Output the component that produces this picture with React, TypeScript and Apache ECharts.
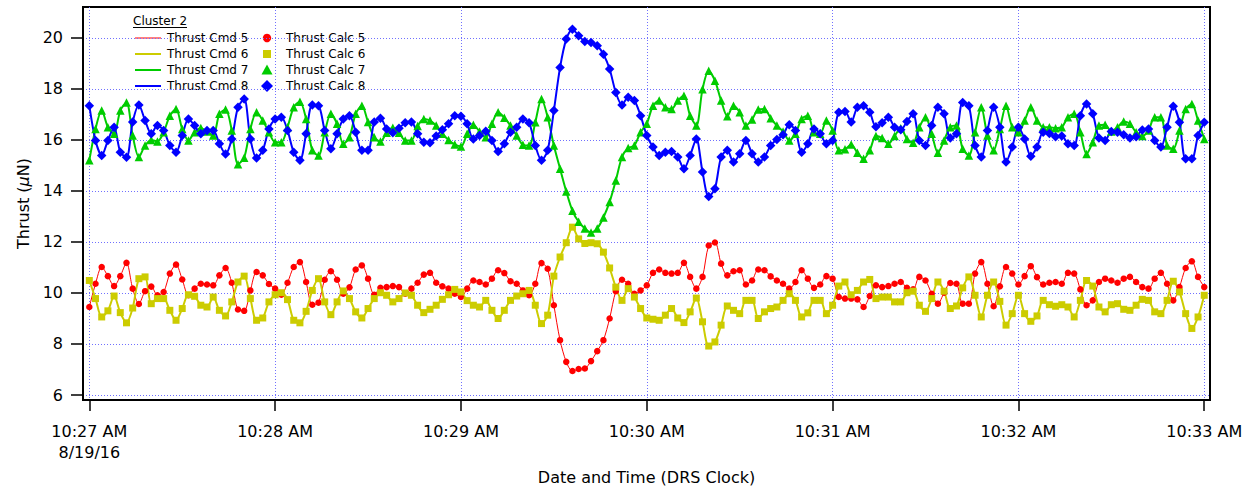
import React, { useEffect, useRef } from "react";
import * as echarts from "echarts";

// Samples are 2 s apart, the first one at 10:27:00 AM.
const SAMPLE_STEP_S = 2;

const X_TICKS = [0, 1, 2, 3, 4, 5, 6]; // minutes after 10:27
const X_TICK_LABELS = ["10:27 AM", "10:28 AM", "10:29 AM", "10:30 AM", "10:31 AM", "10:32 AM", "10:33 AM"];
const DATE_LABEL = "8/19/16";
const Y_TICKS = [6, 8, 10, 12, 14, 16, 18, 20];

const CLUSTER_TITLE = "Cluster 2";
const CMD_NAMES = ["Thrust Cmd 5", "Thrust Cmd 6", "Thrust Cmd 7", "Thrust Cmd 8"];
const CALC_NAMES = ["Thrust Calc 5", "Thrust Calc 6", "Thrust Calc 7", "Thrust Calc 8"];

// Thruster 5 (µN)
const THRUST_5 = [
  9.45, 10.36, 11.02, 10.66, 10.27, 10.66, 11.18, 10.17, 9.57, 10.07, 10.25, 9.91, 10.04, 10.76, 11.11, 10.53,
  9.91, 10.17, 10.36, 10.33, 10.3, 10.69, 10.98, 10.4, 9.35, 9.3, 10.1, 10.82, 10.69, 10.35, 10.17, 9.93,
  10.4, 11.02, 11.21, 10.43, 9.54, 9.62, 10.52, 10.85, 10.52, 9.97, 10.22, 10.92, 11.08, 10.56, 9.93,
  10.2, 10.23, 10.27, 10.23, 9.97, 10.17, 10.4, 10.72, 10.79, 10.4, 10.26, 10.17, 9.97, 9.84, 10.17, 10.49,
  10.43, 10.33, 10.56, 10.89, 10.78, 10.46, 10.36, 10.1, 9.91, 10.36, 11.17, 10.95, 9.52, 8.15, 7.3, 6.94,
  7.02, 7.04, 7.33, 7.72, 8.15, 9.0, 10.07, 10.52, 10.36, 9.97, 10.1, 10.3, 10.79, 10.92, 10.79,
  10.76, 10.79, 11.18, 10.63, 10.17, 10.63, 11.86, 11.98, 11.15, 10.69, 10.85, 10.89, 10.33, 10.49, 10.92, 10.89,
  10.65, 10.49, 10.36, 10.17, 10.43, 10.89, 10.56, 10.2, 10.33, 10.66, 10.56, 9.84, 9.78, 9.78, 9.75, 9.45,
  9.88, 10.3, 10.23, 10.27, 10.36, 10.43, 10.2, 10.14, 10.63, 10.49, 9.97, 9.58,
  10.01, 10.39, 10.36, 9.58, 9.58, 10.76, 11.21, 10.36, 9.48, 10.26, 11.02, 10.76, 10.33, 10.66, 11.05, 10.62,
  10.33, 10.4, 10.43, 10.36, 10.79, 10.76, 10.14, 9.52, 9.71, 10.43, 10.56, 10.49, 10.4, 10.56, 10.63, 10.43,
  10.23, 10.17, 10.56, 10.79, 10.36, 9.71, 10.23, 10.98, 11.24, 10.63, 10.23,
];

// Thruster 6 (µN)
const THRUST_6 = [
  10.49, 9.78, 9.06, 9.3, 9.88, 9.23, 8.83, 9.41, 10.56, 10.63, 9.58, 9.78, 9.78, 9.32, 8.93, 9.39,
  9.93, 9.87, 9.52, 9.45, 9.84, 9.32, 9.1, 9.65, 10.43, 10.66, 9.78, 8.93, 9.02, 9.65, 9.93, 10.01,
  9.74, 8.93, 8.83, 9.28, 10.1, 10.56, 9.65, 9.15, 9.65, 10.08, 9.78, 9.26, 9.02, 9.39, 9.78,
  10.01, 9.91, 9.65, 9.78, 10.0, 9.91, 9.52, 9.23, 9.36, 9.52, 9.75, 9.93, 10.14, 10.04, 9.7, 9.52,
  9.45, 9.71, 9.32, 9.0, 9.32, 9.71, 9.88, 9.97, 10.1, 9.52, 8.8, 9.13, 10.66, 11.41, 11.97, 12.58,
  12.12, 11.94, 11.97, 11.93, 11.6, 10.98, 10.23, 9.71, 10.17, 9.84, 9.39, 9.02, 8.97, 8.93, 9.13,
  9.39, 9.02, 8.84, 9.26, 9.8, 8.87, 7.92, 8.08, 8.74, 9.49, 9.32, 9.19, 9.71, 9.71, 9.0, 9.26,
  9.39, 9.45, 9.71, 9.97, 9.71, 9.06, 9.22, 9.71, 9.71, 9.19, 9.52, 10.27, 10.43, 9.93, 10.1, 10.43,
  10.53, 9.78, 9.84, 9.84, 9.65, 9.65, 10.01, 10.07, 9.52, 9.28, 9.78, 10.43,
  10.07, 9.39, 9.49, 10.2, 10.63, 9.91, 9.06, 9.91, 10.43, 9.67, 8.74, 9.19, 9.91, 9.19, 8.89, 9.1,
  9.71, 9.54, 9.48, 9.54, 9.45, 9.06, 9.71, 10.49, 10.27, 9.45, 9.26, 9.54, 9.58, 9.36, 9.32, 9.52,
  9.75, 9.71, 9.26, 9.19, 9.71, 10.46, 10.04, 9.19, 8.61, 9.06, 9.91,
];

// Thruster 7 (µN)
const THRUST_7 = [
  15.2, 16.43, 17.15, 16.5, 16.24, 17.15, 17.47, 16.17, 15.33, 15.78, 16.0, 15.94, 16.3, 16.95, 17.21, 16.43,
  15.98, 16.3, 16.47, 16.33, 16.17, 17.02, 17.19, 16.37, 15.05, 15.3, 16.43, 17.08, 16.76, 16.3, 15.91, 15.91,
  16.5, 17.28, 17.5, 16.82, 15.59, 15.39, 16.3, 17.02, 16.63, 15.85, 16.1, 17.02, 17.34, 16.7, 16.1,
  15.94, 16.28, 16.48, 16.28, 15.98, 15.98, 16.54, 16.82, 16.76, 16.56, 16.24, 16.0, 15.82, 15.74, 16.24, 16.59,
  16.33, 16.1, 16.63, 17.08, 16.87, 16.56, 16.17, 15.81, 15.78, 16.69, 17.6, 16.89, 15.78, 14.87, 13.98, 13.22,
  12.79, 12.53, 12.37, 12.53, 12.96, 13.57, 14.41, 15.33, 15.68, 15.78, 16.3, 16.63, 17.34, 17.54, 17.28,
  17.21, 17.54, 17.73, 16.95, 16.56, 17.99, 18.71, 18.32, 17.54, 16.93, 17.34, 17.08, 16.56, 16.8, 17.19, 17.21,
  16.85, 16.56, 16.33, 15.98, 16.24, 16.82, 16.95, 16.3, 16.24, 16.76, 16.37, 15.59, 15.63, 15.82, 15.5, 15.26,
  15.59, 16.15, 16.07, 15.85, 16.15, 16.46, 16.04, 15.89, 16.5, 16.89, 16.24, 15.5,
  15.98, 16.5, 16.56, 15.65, 15.39, 16.3, 17.28, 16.17, 15.59, 16.43, 17.34, 16.5, 16.3, 16.76, 17.28, 16.76,
  16.5, 16.5, 16.46, 16.5, 16.89, 17.02, 16.3, 15.45, 15.91, 16.56, 16.59, 16.33, 16.5, 16.72, 16.63, 16.3,
  16.15, 16.37, 16.89, 16.89, 15.78, 15.65, 16.37, 17.21, 17.41, 16.76, 16.04,
];

// Thruster 8 (µN)
const THRUST_8 = [
  17.34, 15.98, 15.39, 15.98, 16.5, 15.52, 15.32, 16.7, 17.37, 16.76, 16.24, 16.56, 16.37, 15.78, 15.52, 16.17,
  16.82, 16.56, 16.24, 16.37, 16.37, 15.85, 15.45, 16.04, 17.28, 17.6, 16.04, 15.29, 15.59, 16.43, 16.82, 16.89,
  16.37, 15.52, 15.2, 16.24, 17.37, 17.34, 16.37, 15.65, 16.24, 16.82, 16.95, 16.3, 15.59, 15.59, 16.7,
  16.85, 16.43, 16.28, 16.46, 16.67, 16.7, 16.24, 15.91, 15.89, 16.15, 16.4, 16.63, 16.95, 16.93, 16.63, 16.04,
  16.17, 16.34, 15.98, 15.55, 15.85, 16.3, 16.5, 16.82, 16.67, 15.78, 15.2, 15.59, 17.15, 18.84, 19.95, 20.34,
  20.08, 19.86, 19.82, 19.69, 19.36, 18.78, 17.86, 17.37, 17.67, 17.54, 16.95, 16.17, 15.72, 15.39, 15.52,
  15.55, 15.33, 14.87, 15.39, 16.04, 14.74, 13.78, 14.09, 15.33, 15.59, 15.13, 15.46, 15.98, 15.46, 15.13, 15.33,
  15.78, 16.02, 16.2, 16.59, 16.37, 15.52, 15.85, 16.43, 16.24, 15.85, 15.98, 17.08, 17.11, 16.7, 17.28, 17.34,
  17.08, 16.52, 16.67, 16.89, 16.5, 16.4, 16.72, 17.02, 15.98, 15.78, 16.56, 17.28,
  17.02, 16.07, 16.24, 17.47, 17.34, 15.78, 15.33, 16.37, 17.28, 16.5, 15.13, 15.72, 16.5, 16.04, 15.36, 15.72,
  16.3, 16.25, 16.12, 16.15, 15.85, 15.78, 16.95, 17.41, 17.02, 16.07, 15.98, 16.33, 16.3, 16.2, 16.07, 16.12,
  16.39, 16.43, 15.98, 15.72, 16.5, 17.32, 16.69, 15.26, 15.26, 16.17, 16.69,
];

const CHANNELS = [THRUST_5, THRUST_6, THRUST_7, THRUST_8];
const COLORS = ["#ff0000", "#cccc00", "#00cc00", "#0000ff"];
const LINE_WIDTHS = [1, 2, 2, 2];
const SYMBOLS = ["circle", "rect", "triangle", "diamond"];
const SYMBOL_SIZES = [6.5, 7, 8.5, 9.5];

const FONT = '"DejaVu Sans", Verdana, sans-serif';
const GRID_COLOR = "#7070ff";

// time axis runs in minutes after 10:27
const toPairs = (vals: number[]) => vals.map((v, i) => [(i * SAMPLE_STEP_S) / 60, v]);

function legendGraphics() {
  const rowsY = [38, 54, 70, 86];
  const items: any[] = [
    {
      type: "text",
      x: 133,
      y: 21,
      style: { text: CLUSTER_TITLE, font: `12px ${FONT}`, fill: "#000", verticalAlign: "middle", align: "left" },
    },
    { type: "line", shape: { x1: 133, y1: 27.5, x2: 187, y2: 27.5 }, style: { stroke: "#000", lineWidth: 1 } },
  ];
  rowsY.forEach((y, k) => {
    const c = COLORS[k];
    items.push({
      type: "line",
      shape: { x1: 135, y1: y, x2: 161, y2: y },
      style: { stroke: c, lineWidth: LINE_WIDTHS[k] },
    });
    items.push({
      type: "text",
      x: 167,
      y,
      style: { text: CMD_NAMES[k], font: `12px ${FONT}`, fill: "#000", verticalAlign: "middle", align: "left" },
    });
    const cx = 267;
    if (k === 0) items.push({ type: "circle", shape: { cx, cy: y, r: 4.2 }, style: { fill: c } });
    if (k === 1) items.push({ type: "rect", shape: { x: cx - 4, y: y - 4, width: 8, height: 8 }, style: { fill: c } });
    if (k === 2)
      items.push({
        type: "polygon",
        shape: { points: [[cx, y - 5.5], [cx + 5.5, y + 4.5], [cx - 5.5, y + 4.5]] },
        style: { fill: c },
      });
    if (k === 3)
      items.push({
        type: "polygon",
        shape: { points: [[cx, y - 6], [cx + 6, y], [cx, y + 6], [cx - 6, y]] },
        style: { fill: c },
      });
    items.push({
      type: "text",
      x: 286,
      y,
      style: { text: CALC_NAMES[k], font: `12px ${FONT}`, fill: "#000", verticalAlign: "middle", align: "left" },
    });
  });
  return items;
}

export default function App() {
  const ref = useRef<HTMLDivElement>(null);

  useEffect(() => {
    if (!ref.current) return;
    const chart = echarts.init(ref.current, null, { renderer: "svg" });

    const lineSeries = CHANNELS.map((vals, k) => ({
      type: "line",
      name: CMD_NAMES[k],
      data: toPairs(vals),
      symbol: "none",
      showSymbol: false,
      smooth: 0.3,
      lineStyle: { color: COLORS[k], width: LINE_WIDTHS[k] },
      itemStyle: { color: COLORS[k] },
      z: 2,
      silent: true,
    }));
    const markerSeries = CHANNELS.map((vals, k) => ({
      type: "scatter",
      name: CALC_NAMES[k],
      data: toPairs(vals),
      symbol: SYMBOLS[k],
      symbolSize: SYMBOL_SIZES[k],
      itemStyle: { color: COLORS[k], opacity: 1 },
      z: 3,
      silent: true,
    }));

    chart.setOption({
      animation: false,
      backgroundColor: "#ffffff",
      grid: {
        left: 83,
        top: 7,
        right: 46,
        bottom: 88,
        show: true,
        borderColor: "#000",
        borderWidth: 2,
        backgroundColor: "transparent",
      },
      xAxis: {
        type: "value",
        min: -0.034,
        max: 6.031,
        splitNumber: 6,
        axisLine: { show: true, onZero: false, lineStyle: { color: "#000", width: 2 } },
        axisTick: { show: true, inside: false, length: 11, customValues: X_TICKS, lineStyle: { color: "#000", width: 1.5 } },
        axisLabel: {
          customValues: X_TICKS,
          margin: 21,
          color: "#000",
          fontSize: 16,
          lineHeight: 21,
          fontFamily: FONT,
          formatter: (v: number) => {
            const i = Math.round(v);
            return i === 0 ? `${X_TICK_LABELS[0]}\n${DATE_LABEL}` : X_TICK_LABELS[i];
          },
        },
        splitLine: { show: true, lineStyle: { color: GRID_COLOR, type: [1, 2], width: 1 } },
        name: "Date and Time (DRS Clock)",
        nameLocation: "middle",
        nameGap: 69,
        nameTextStyle: { color: "#000", fontSize: 16, fontFamily: FONT },
      },
      yAxis: {
        type: "value",
        min: 5.805,
        max: 21.209,
        splitNumber: 8,
        axisLine: { show: true, onZero: false, lineStyle: { color: "#000", width: 2 } },
        axisTick: { show: true, inside: false, length: 12, customValues: Y_TICKS, lineStyle: { color: "#000", width: 1.5 } },
        axisLabel: { customValues: Y_TICKS, margin: 20, color: "#000", fontSize: 16, fontFamily: FONT },
        splitLine: { show: true, lineStyle: { color: GRID_COLOR, type: [1, 2], width: 1 } },
        name: "Thrust ({i|μ}N)",
        nameLocation: "middle",
        nameRotate: 90,
        nameGap: 51,
        nameTextStyle: {
          color: "#000",
          fontSize: 16,
          fontFamily: FONT,
          rich: { i: { fontStyle: "italic", fontSize: 16, fontFamily: FONT, color: "#000" } },
        },
      },
      graphic: legendGraphics(),
      series: [...lineSeries, ...markerSeries],
    });

    return () => chart.dispose();
  }, []);

  return (
    <div
      ref={ref}
      style={{ position: "absolute", left: 0, top: 0, width: 1256, height: 490, background: "#fff" }}
    />
  );
}
